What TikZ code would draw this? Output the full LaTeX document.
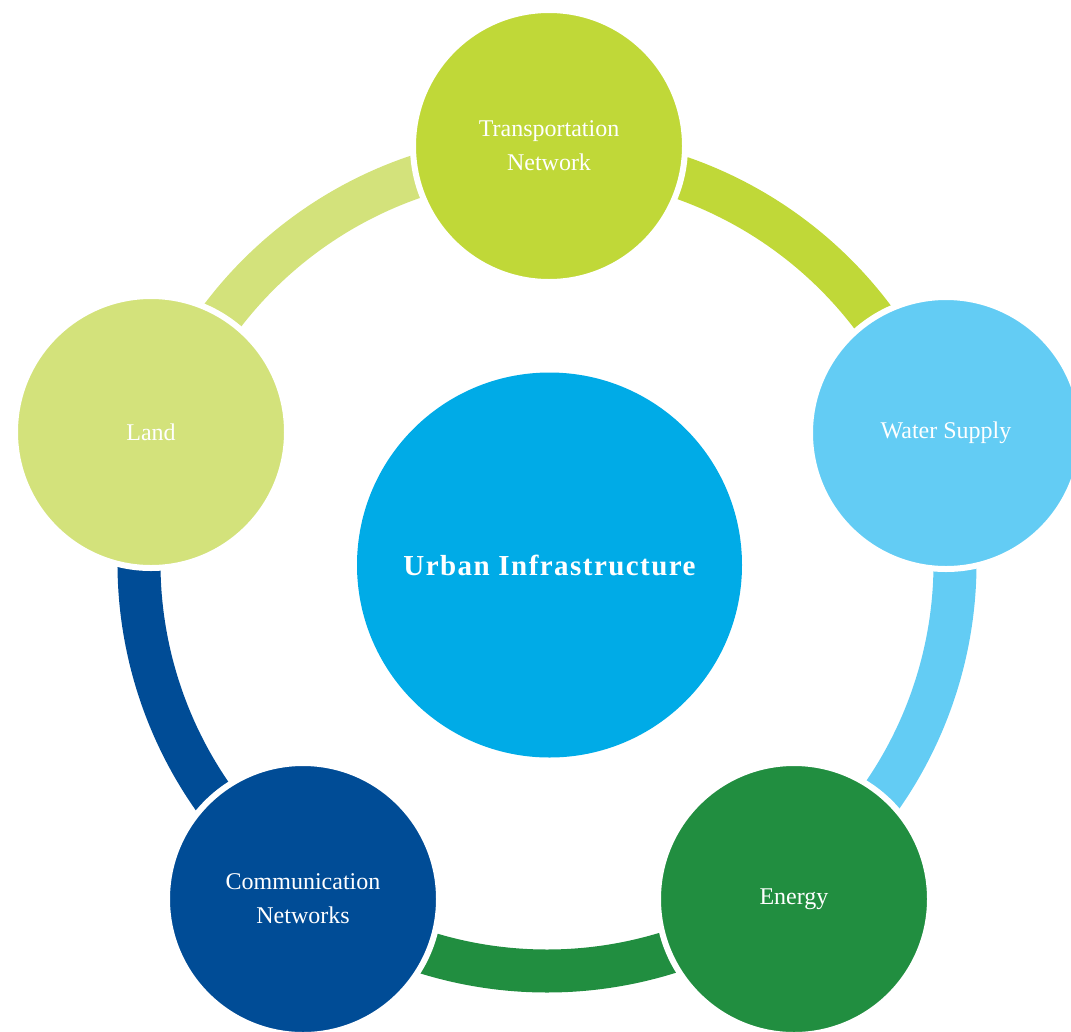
\documentclass[tikz,border=0pt]{standalone}
\usepackage{fontspec}
\setmainfont{Liberation Serif}
\definecolor{ctrans}{RGB}{192,216,56}
\definecolor{cland}{RGB}{211,226,123}
\definecolor{cwater}{RGB}{99,204,244}
\definecolor{cenergy}{RGB}{33,142,64}
\definecolor{ccomm}{RGB}{0,76,150}
\definecolor{ccenter}{RGB}{0,171,231}
\tikzset{
  outer/.style={circle, inner sep=0pt, outer sep=0pt, minimum size=272pt,
    draw=white, line width=6pt, text=white, align=center,
    font=\fontsize{24}{34}\selectfont},
  hub/.style={circle, inner sep=0pt, minimum size=385pt, fill=ccenter,
    text=white, font=\fontsize{29}{34}\bfseries\addfontfeature{LetterSpace=5}},
  band/.style={line width=43pt, line cap=butt}
}
\begin{document}
\begin{tikzpicture}[x=1pt,y=-1pt]
\useasboundingbox (0,0) rectangle (1071,1031);
\clip (0,0) rectangle (1071,1031);
\coordinate (ring) at (547,563);
% connecting arcs
\draw[band, ctrans]  ([shift={(0,-408)}]ring) arc[start angle=-90, end angle=-18, radius=408];
\draw[band, cwater]  ([shift={(-18:408)}]ring) arc[start angle=-18, end angle=54, radius=408];
\draw[band, cenergy] ([shift={(54:408)}]ring) arc[start angle=54, end angle=126, radius=408];
\draw[band, ccomm]   ([shift={(126:408)}]ring) arc[start angle=126, end angle=198, radius=408];
\draw[band, cland]   ([shift={(198:408)}]ring) arc[start angle=198, end angle=270, radius=408];
% nodes
\node[hub] (hub) at (549.5,565) {Urban Infrastructure};
\node[outer, fill=ctrans]  (trans)  at (549,146) {Transportation\\Network};
\node[outer, fill=cwater]  (water)  at (946,433) {Water Supply};
\node[outer, fill=cenergy] (energy) at (794,899) {\raisebox{-3pt}{Energy}};
\node[outer, fill=ccomm]   (comm)   at (303,899) {Communication\\Networks};
\node[outer, fill=cland]   (land)   at (151,432) {Land};
\end{tikzpicture}
\end{document}
